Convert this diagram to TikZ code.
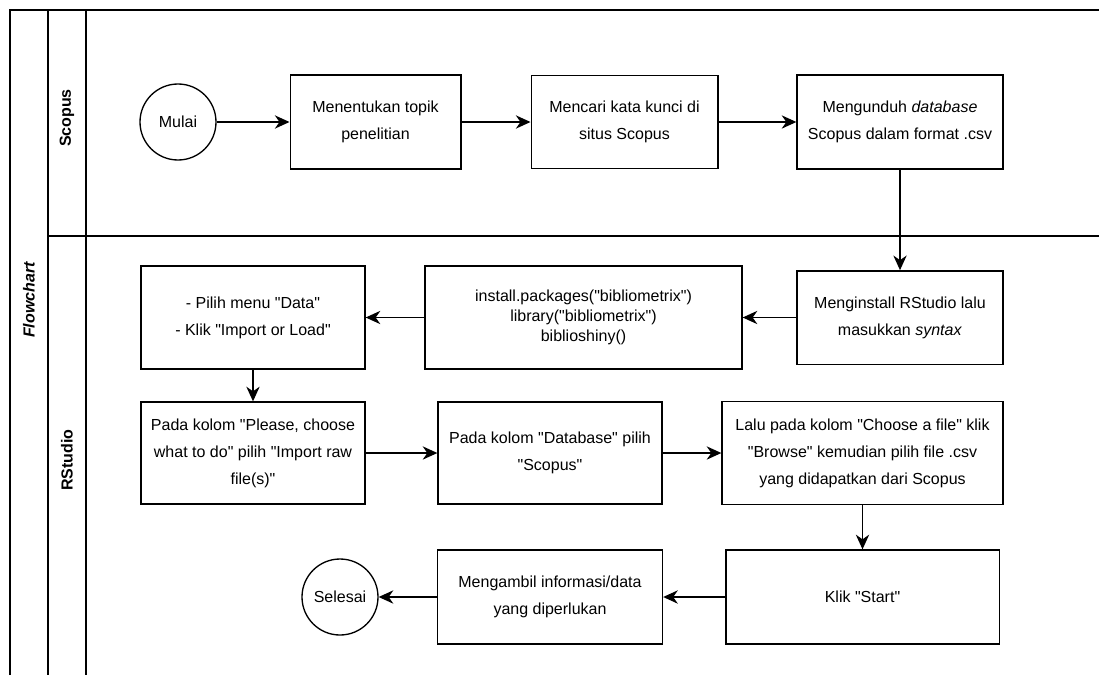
\documentclass[tikz,border=0pt]{standalone}
\usepackage{fontspec}
\setmainfont{Liberation Sans}[Ligatures=TeXOff]
\usetikzlibrary{arrows.meta}

\begin{document}
\begin{tikzpicture}[x=0.75pt, y=-0.75pt, >={Stealth[length=11pt,width=10pt,inset=3.5pt]},
  proses/.style={draw, line width=1pt, align=center, inner sep=2pt,
    font=\fontsize{12}{20.25}\selectfont},
  terminal/.style={draw, circle, line width=1pt, minimum size=57pt, inner sep=0pt,
    font=\fontsize{12}{14}\selectfont},
  panah/.style={->, line width=1pt},
  lajur/.style={line width=1pt},
  judul/.style={rotate=90, font=\bfseries\fontsize{12}{14}\selectfont}]
  \useasboundingbox (0,0) rectangle (1099,675);

  % Pool and lanes
  \draw[lajur] (10,675) -- (10,10) -- (1099,10);
  \draw[lajur] (48,10) -- (48,675);
  \draw[lajur] (86,10) -- (86,675);
  \draw[lajur] (48,236) -- (1099,236);
  \node[judul, font=\bfseries\itshape\fontsize{12}{14}\selectfont] (pool) at (29,300) {Flowchart};
  \node[judul] (lajurScopus) at (67,118) {Scopus};
  \node[judul] (lajurRStudio) at (67,460) {RStudio};

  % Lane Scopus
  \node[terminal] (mulai) at (178,122) {Mulai};
  \node[proses, minimum width=128pt, minimum height=70.5pt] (topik) at (375.5,122)
    {Menentukan topik\\penelitian};
  \node[proses, minimum width=140pt, minimum height=70pt] (kunci) at (624.5,122)
    {Mencari kata kunci di\\situs Scopus};
  \node[proses, minimum width=154.5pt, minimum height=70.5pt] (unduh) at (900,122)
    {Mengunduh \textit{database}\\Scopus dalam format .csv};

  % Lane RStudio
  \node[proses, minimum width=154.5pt, minimum height=70pt] (instal) at (900,317.5)
    {Menginstall RStudio lalu\\masukkan \textit{syntax}};
  \node[proses, minimum width=237.75pt, minimum height=77.25pt,
    font=\fontsize{12}{15}\selectfont] (sintaks) at (583.5,317.5)
    {install.packages("bibliometrix")\\library("bibliometrix")\\biblioshiny()};
  \node[proses, minimum width=168pt, minimum height=77.25pt] (menu) at (253,317.5)
    {- Pilih menu "Data"\\- Klik "Import or Load"};
  \node[proses, minimum width=168pt, minimum height=76.5pt] (impor) at (253,453)
    {Pada kolom "Please, choose\\what to do" pilih "Import raw\\file(s)"};
  \node[proses, minimum width=168pt, minimum height=76.5pt] (basis) at (550,453)
    {Pada kolom "Database" pilih\\"Scopus"};
  \node[proses, minimum width=210.75pt, minimum height=77.25pt] (berkas) at (862.5,453)
    {Lalu pada kolom "Choose a file" klik\\"Browse" kemudian pilih file .csv\\yang didapatkan dari Scopus};
  \node[proses, minimum width=205pt, minimum height=70.5pt] (klik) at (862.5,597)
    {Klik "Start"};
  \node[proses, minimum width=168.75pt, minimum height=70.5pt] (ambil) at (550,597)
    {Mengambil informasi/data\\yang diperlukan};
  \node[terminal] (selesai) at (340,597) {Selesai};

  % Connectors
  \draw[panah] (mulai) -- (topik);
  \draw[panah] (topik) -- (kunci);
  \draw[panah] (kunci) -- (unduh);
  \draw[panah] (unduh) -- (instal);
  \draw[panah] (instal) -- (sintaks);
  \draw[panah] (sintaks) -- (menu);
  \draw[panah] (menu) -- (impor);
  \draw[panah] (impor) -- (basis);
  \draw[panah] (basis) -- (berkas);
  \draw[panah] (berkas) -- (klik);
  \draw[panah] (klik) -- (ambil);
  \draw[panah] (ambil) -- (selesai);
\end{tikzpicture}
\end{document}
